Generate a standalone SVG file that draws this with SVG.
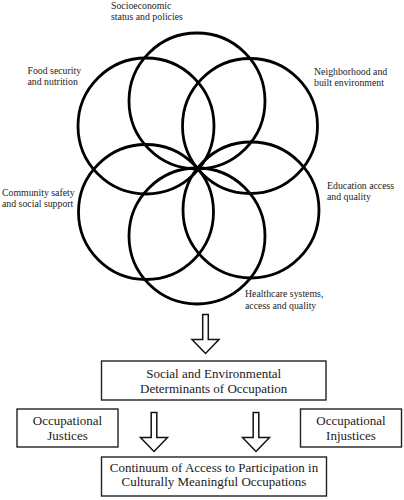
<svg xmlns="http://www.w3.org/2000/svg" width="404" height="500" viewBox="0 0 404 500">
<style>
.c{fill:none;stroke:#000;stroke-width:2.8}
.lbl{font-size:9.8px;fill:#222}
.bt{font-size:13px;fill:#1a1a1a;text-anchor:middle}
.box{fill:#fff;stroke:#222;stroke-width:1.4}
.ar{fill:#fff;stroke:#111;stroke-width:1.5;stroke-linejoin:miter}
.sf{font-family:'Liberation Serif','DejaVu Serif','Noto Serif',serif}
</style>
<defs>
<path id="arrow" d="M-2.8,0 H2.8 V25 H13.5 L0,39 L-13.5,25 H-2.8 Z"/>
</defs>
<rect width="404" height="500" fill="#fff"/>
<g id="flower">
<circle class="c" cx="197" cy="101" r="68"/>
<circle class="c" cx="146" cy="126" r="68"/>
<circle class="c" cx="250" cy="126" r="67.5"/>
<circle class="c" cx="146" cy="212" r="67.5"/>
<circle class="c" cx="251" cy="210" r="68"/>
<circle class="c" cx="197" cy="236" r="68"/>
</g>
<g id="labels" class="sf">
<text class="lbl" x="111" y="9">Socioeconomic</text>
<text class="lbl" x="111" y="20">status and policies</text>
<text class="lbl" x="27.5" y="74">Food security</text>
<text class="lbl" x="27.5" y="85">and nutrition</text>
<text class="lbl" x="314" y="75">Neighborhood and</text>
<text class="lbl" x="314" y="86">built environment</text>
<text class="lbl" x="2" y="196">Community safety</text>
<text class="lbl" x="2" y="207">and social support</text>
<text class="lbl" x="327" y="189">Education access</text>
<text class="lbl" x="327" y="200">and quality</text>
<text class="lbl" x="245" y="297">Healthcare systems,</text>
<text class="lbl" x="245" y="309">access and quality</text>
</g>
<g id="connectors">
<use class="ar" href="#arrow" x="205.5" y="314.5"/>
<use class="ar" href="#arrow" x="154" y="412.5"/>
<use class="ar" href="#arrow" x="256" y="412.5"/>
</g>
<g class="sf">
<g id="determinants">
<rect class="box" x="101.5" y="361" width="224.5" height="39"/>
<text class="bt" x="213.7" y="378">Social and Environmental</text>
<text class="bt" x="213.7" y="392.5">Determinants of Occupation</text>
</g>
<g id="justices">
<rect class="box" x="17" y="409" width="101" height="38"/>
<text class="bt" x="67.5" y="425">Occupational</text>
<text class="bt" x="67.5" y="439.5">Justices</text>
</g>
<g id="injustices">
<rect class="box" x="300.5" y="409" width="101" height="38"/>
<text class="bt" x="351" y="425">Occupational</text>
<text class="bt" x="351" y="439.5">Injustices</text>
</g>
<g id="continuum">
<rect class="box" x="101.5" y="457" width="225" height="39"/>
<text class="bt" x="214" y="472">Continuum of Access to Participation in</text>
<text class="bt" x="214" y="486">Culturally Meaningful Occupations</text>
</g>
</g>
</svg>
